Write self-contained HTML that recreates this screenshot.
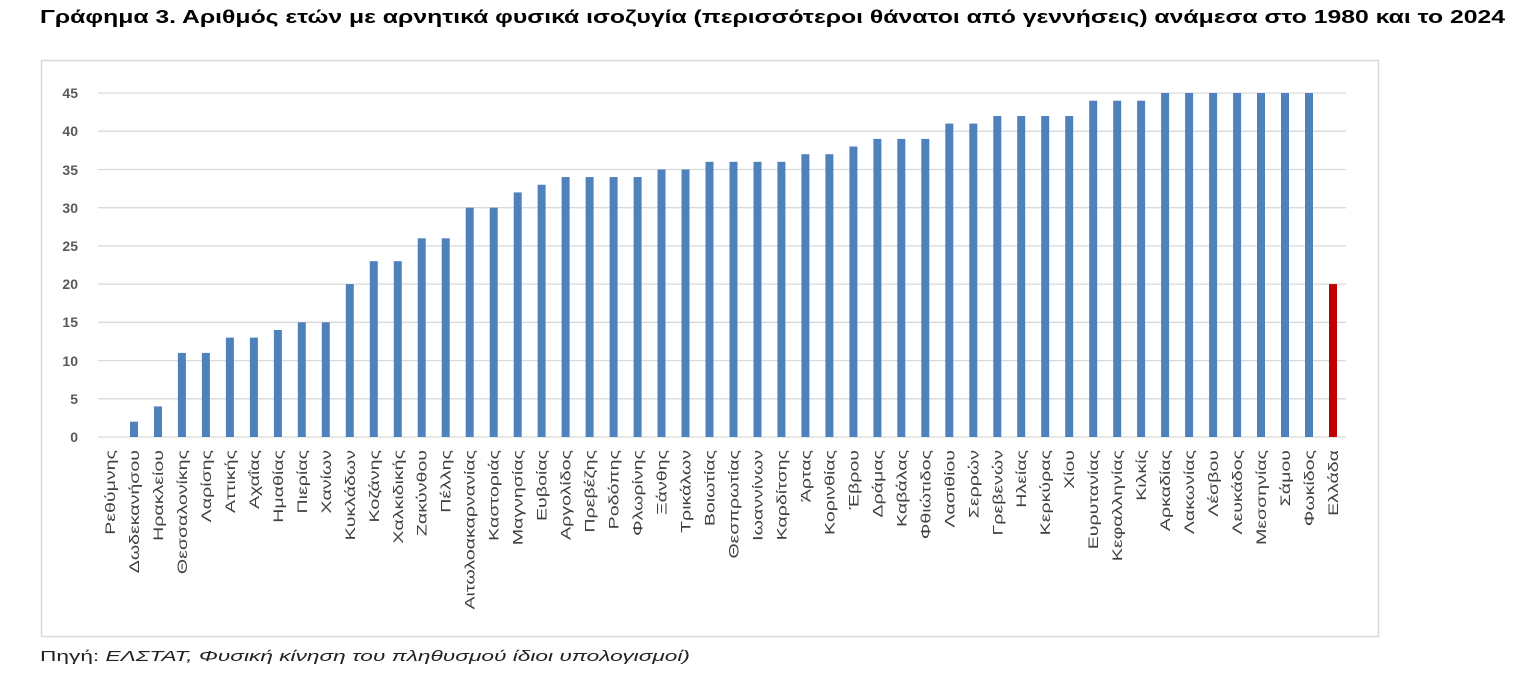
<!DOCTYPE html>
<html><head><meta charset="utf-8"><style>
body{margin:0;background:#fff;width:1527px;height:671px;overflow:hidden;font-family:"Liberation Sans",sans-serif}
</style></head><body>
<svg width="1527" height="671" xmlns="http://www.w3.org/2000/svg" font-family="Liberation Sans, DejaVu Sans, sans-serif">
<text x="40" y="23" font-size="18" font-weight="bold" fill="#000" textLength="1465" lengthAdjust="spacingAndGlyphs">Γράφημα 3.  Αριθμός ετών με αρνητικά φυσικά ισοζυγία (περισσότεροι θάνατοι από γεννήσεις) ανάμεσα στο 1980 και το 2024</text>
<rect x="41.5" y="60.5" width="1337" height="576" fill="#fff" stroke="#d9d9d9" stroke-width="1.5"/>
<g stroke="#d9d9d9" stroke-width="1.3">
<line x1="98" x2="1346" y1="437" y2="437"/><line x1="98" x2="1346" y1="398.8" y2="398.8"/><line x1="98" x2="1346" y1="360.6" y2="360.6"/><line x1="98" x2="1346" y1="322.3" y2="322.3"/><line x1="98" x2="1346" y1="284.1" y2="284.1"/><line x1="98" x2="1346" y1="245.9" y2="245.9"/><line x1="98" x2="1346" y1="207.7" y2="207.7"/><line x1="98" x2="1346" y1="169.5" y2="169.5"/><line x1="98" x2="1346" y1="131.2" y2="131.2"/><line x1="98" x2="1346" y1="93" y2="93"/>
</g>
<g font-size="14" font-weight="bold" fill="#595959" text-anchor="end">
<text x="78" y="442">0</text><text x="78" y="404">5</text><text x="78" y="366">10</text><text x="78" y="327">15</text><text x="78" y="289">20</text><text x="78" y="251">25</text><text x="78" y="213">30</text><text x="78" y="175">35</text><text x="78" y="136">40</text><text x="78" y="98">45</text>
</g>
<g fill="#4f81bd">
<rect x="130" y="421.7" width="8" height="15.3"/>
<rect x="154" y="406.4" width="8" height="30.6"/>
<rect x="177.9" y="352.9" width="8" height="84.1"/>
<rect x="201.9" y="352.9" width="8" height="84.1"/>
<rect x="225.9" y="337.6" width="8" height="99.4"/>
<rect x="249.9" y="337.6" width="8" height="99.4"/>
<rect x="273.9" y="330" width="8" height="107"/>
<rect x="297.8" y="322.3" width="8" height="114.7"/>
<rect x="321.8" y="322.3" width="8" height="114.7"/>
<rect x="345.8" y="284.1" width="8" height="152.9"/>
<rect x="369.8" y="261.2" width="8" height="175.8"/>
<rect x="393.8" y="261.2" width="8" height="175.8"/>
<rect x="417.7" y="238.3" width="8" height="198.7"/>
<rect x="441.7" y="238.3" width="8" height="198.7"/>
<rect x="465.7" y="207.7" width="8" height="229.3"/>
<rect x="489.7" y="207.7" width="8" height="229.3"/>
<rect x="513.7" y="192.4" width="8" height="244.6"/>
<rect x="537.6" y="184.7" width="8" height="252.3"/>
<rect x="561.6" y="177.1" width="8" height="259.9"/>
<rect x="585.6" y="177.1" width="8" height="259.9"/>
<rect x="609.6" y="177.1" width="8" height="259.9"/>
<rect x="633.6" y="177.1" width="8" height="259.9"/>
<rect x="657.5" y="169.5" width="8" height="267.5"/>
<rect x="681.5" y="169.5" width="8" height="267.5"/>
<rect x="705.5" y="161.8" width="8" height="275.2"/>
<rect x="729.5" y="161.8" width="8" height="275.2"/>
<rect x="753.5" y="161.8" width="8" height="275.2"/>
<rect x="777.4" y="161.8" width="8" height="275.2"/>
<rect x="801.4" y="154.2" width="8" height="282.8"/>
<rect x="825.4" y="154.2" width="8" height="282.8"/>
<rect x="849.4" y="146.5" width="8" height="290.5"/>
<rect x="873.4" y="138.9" width="8" height="298.1"/>
<rect x="897.3" y="138.9" width="8" height="298.1"/>
<rect x="921.3" y="138.9" width="8" height="298.1"/>
<rect x="945.3" y="123.6" width="8" height="313.4"/>
<rect x="969.3" y="123.6" width="8" height="313.4"/>
<rect x="993.3" y="116" width="8" height="321"/>
<rect x="1017.2" y="116" width="8" height="321"/>
<rect x="1041.2" y="116" width="8" height="321"/>
<rect x="1065.2" y="116" width="8" height="321"/>
<rect x="1089.2" y="100.7" width="8" height="336.3"/>
<rect x="1113.2" y="100.7" width="8" height="336.3"/>
<rect x="1137.1" y="100.7" width="8" height="336.3"/>
<rect x="1161.1" y="93" width="8" height="344"/>
<rect x="1185.1" y="93" width="8" height="344"/>
<rect x="1209.1" y="93" width="8" height="344"/>
<rect x="1233.1" y="93" width="8" height="344"/>
<rect x="1257" y="93" width="8" height="344"/>
<rect x="1281" y="93" width="8" height="344"/>
<rect x="1305" y="93" width="8" height="344"/>
</g>
<rect x="1329" y="284.1" width="8" height="152.9" fill="#c00000"/>
<g font-size="14" fill="#404040" text-anchor="end">
<text transform="translate(115,450) rotate(-90) scale(1.4,1)">Ρεθύμνης</text>
<text transform="translate(139,450) rotate(-90) scale(1.4,1)">Δωδεκανήσου</text>
<text transform="translate(163,450) rotate(-90) scale(1.4,1)">Ηρακλείου</text>
<text transform="translate(186.9,450) rotate(-90) scale(1.4,1)">Θεσσαλονίκης</text>
<text transform="translate(210.9,450) rotate(-90) scale(1.4,1)">Λαρίσης</text>
<text transform="translate(234.9,450) rotate(-90) scale(1.4,1)">Αττικής</text>
<text transform="translate(258.9,450) rotate(-90) scale(1.4,1)">Αχαΐας</text>
<text transform="translate(282.9,450) rotate(-90) scale(1.4,1)">Ημαθίας</text>
<text transform="translate(306.8,450) rotate(-90) scale(1.4,1)">Πιερίας</text>
<text transform="translate(330.8,450) rotate(-90) scale(1.4,1)">Χανίων</text>
<text transform="translate(354.8,450) rotate(-90) scale(1.4,1)">Κυκλάδων</text>
<text transform="translate(378.8,450) rotate(-90) scale(1.4,1)">Κοζάνης</text>
<text transform="translate(402.8,450) rotate(-90) scale(1.4,1)">Χαλκιδικής</text>
<text transform="translate(426.7,450) rotate(-90) scale(1.4,1)">Ζακύνθου</text>
<text transform="translate(450.7,450) rotate(-90) scale(1.4,1)">Πέλλης</text>
<text transform="translate(474.7,450) rotate(-90) scale(1.4,1)">Αιτωλοακαρνανίας</text>
<text transform="translate(498.7,450) rotate(-90) scale(1.4,1)">Καστοριάς</text>
<text transform="translate(522.7,450) rotate(-90) scale(1.4,1)">Μαγνησίας</text>
<text transform="translate(546.6,450) rotate(-90) scale(1.4,1)">Ευβοίας</text>
<text transform="translate(570.6,450) rotate(-90) scale(1.4,1)">Αργολίδος</text>
<text transform="translate(594.6,450) rotate(-90) scale(1.4,1)">Πρεβέζης</text>
<text transform="translate(618.6,450) rotate(-90) scale(1.4,1)">Ροδόπης</text>
<text transform="translate(642.6,450) rotate(-90) scale(1.4,1)">Φλωρίνης</text>
<text transform="translate(666.5,450) rotate(-90) scale(1.4,1)">Ξάνθης</text>
<text transform="translate(690.5,450) rotate(-90) scale(1.4,1)">Τρικάλων</text>
<text transform="translate(714.5,450) rotate(-90) scale(1.4,1)">Βοιωτίας</text>
<text transform="translate(738.5,450) rotate(-90) scale(1.4,1)">Θεσπρωτίας</text>
<text transform="translate(762.5,450) rotate(-90) scale(1.4,1)">Ιωαννίνων</text>
<text transform="translate(786.4,450) rotate(-90) scale(1.4,1)">Καρδίτσης</text>
<text transform="translate(810.4,450) rotate(-90) scale(1.4,1)">Άρτας</text>
<text transform="translate(834.4,450) rotate(-90) scale(1.4,1)">Κορινθίας</text>
<text transform="translate(858.4,450) rotate(-90) scale(1.4,1)">Έβρου</text>
<text transform="translate(882.4,450) rotate(-90) scale(1.4,1)">Δράμας</text>
<text transform="translate(906.3,450) rotate(-90) scale(1.4,1)">Καβάλας</text>
<text transform="translate(930.3,450) rotate(-90) scale(1.4,1)">Φθιώτιδος</text>
<text transform="translate(954.3,450) rotate(-90) scale(1.4,1)">Λασιθίου</text>
<text transform="translate(978.3,450) rotate(-90) scale(1.4,1)">Σερρών</text>
<text transform="translate(1002.3,450) rotate(-90) scale(1.4,1)">Γρεβενών</text>
<text transform="translate(1026.2,450) rotate(-90) scale(1.4,1)">Ηλείας</text>
<text transform="translate(1050.2,450) rotate(-90) scale(1.4,1)">Κερκύρας</text>
<text transform="translate(1074.2,450) rotate(-90) scale(1.4,1)">Χίου</text>
<text transform="translate(1098.2,450) rotate(-90) scale(1.4,1)">Ευρυτανίας</text>
<text transform="translate(1122.2,450) rotate(-90) scale(1.4,1)">Κεφαλληνίας</text>
<text transform="translate(1146.1,450) rotate(-90) scale(1.4,1)">Κιλκίς</text>
<text transform="translate(1170.1,450) rotate(-90) scale(1.4,1)">Αρκαδίας</text>
<text transform="translate(1194.1,450) rotate(-90) scale(1.4,1)">Λακωνίας</text>
<text transform="translate(1218.1,450) rotate(-90) scale(1.4,1)">Λέσβου</text>
<text transform="translate(1242.1,450) rotate(-90) scale(1.4,1)">Λευκάδος</text>
<text transform="translate(1266,450) rotate(-90) scale(1.4,1)">Μεσσηνίας</text>
<text transform="translate(1290,450) rotate(-90) scale(1.4,1)">Σάμου</text>
<text transform="translate(1314,450) rotate(-90) scale(1.4,1)">Φωκίδος</text>
<text transform="translate(1338,450) rotate(-90) scale(1.4,1)">Ελλάδα</text>
</g>
<text x="40" y="661" font-size="15" fill="#222" textLength="650" lengthAdjust="spacingAndGlyphs">Πηγή: <tspan font-style="italic">ΕΛΣΤΑΤ, Φυσική κίνηση του πληθυσμού  ίδιοι υπολογισμοί)</tspan></text>
</svg>
</body></html>
